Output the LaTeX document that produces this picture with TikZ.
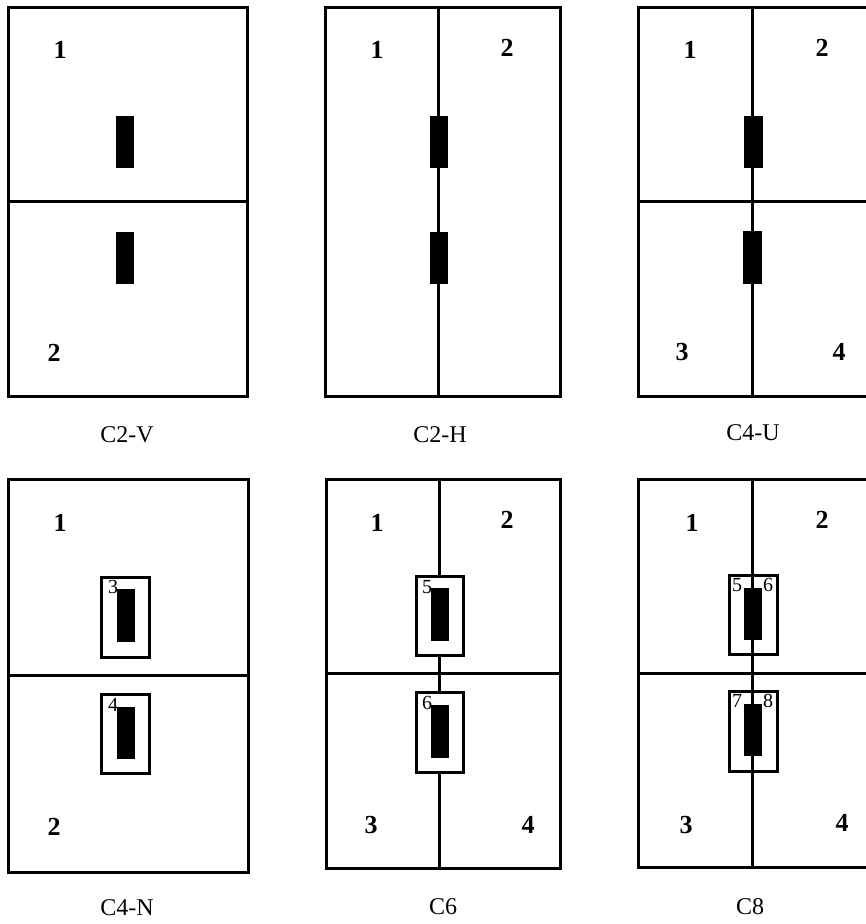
\documentclass[tikz,border=0pt]{standalone}
\usepackage{fontspec}
\setmainfont{Liberation Serif}
\begin{document}
\begin{tikzpicture}[x=1pt,y=-1pt,
  frame/.style={line width=3pt},
  divider/.style={line width=3pt},
  holder/.style={line width=3pt},
  bar/.style={fill=black,draw=none},
  region/.style={font=\fontsize{26}{26}\selectfont\bfseries,inner sep=0pt},
  small/.style={font=\fontsize{20}{20}\selectfont,inner sep=0pt},
  caption/.style={font=\fontsize{24}{24}\selectfont,inner sep=0pt}]
\useasboundingbox (0,0) rectangle (866,924);
% ---------- C2-V ----------
\draw[divider] (8,201) -- (247,201);
\draw[frame] (8,7) rectangle (247,396);
\fill[bar] (116,116) rectangle (134,168);
\fill[bar] (116,232) rectangle (134,284);
\node[region] (a1) at (60,50) {1};
\node[region] (a2) at (54,353) {2};
\node[caption] (ca) at (127,435) {C2-V};
% ---------- C2-H ----------
\draw[divider] (438,7) -- (438,396);
\draw[frame] (325,7) rectangle (560,396);
\fill[bar] (430,116) rectangle (448,168);
\fill[bar] (430,232) rectangle (448,284);
\node[region] (b1) at (377,50) {1};
\node[region] (b2) at (507,48) {2};
\node[caption] (cb) at (440,435) {C2-H};
% ---------- C4-U ----------
\draw[divider] (638,201) -- (866,201);
\draw[divider] (752,7) -- (752,396);
\draw[frame] (866,7) -- (638,7) -- (638,396) -- (866,396);
\fill[bar] (744,116) rectangle (763,168);
\fill[bar] (743,231) rectangle (762,284);
\node[region] (u1) at (690,50) {1};
\node[region] (u2) at (822,48) {2};
\node[region] (u3) at (682,352) {3};
\node[region] (u4) at (839,352) {4};
\node[caption] (cu) at (753,433) {C4-U};
% ---------- C4-N ----------
\draw[divider] (8,675) -- (248,675);
\draw[frame] (8,479) rectangle (248,872);
\draw[holder,fill=white] (101,577) rectangle (149,657);
\fill[bar] (117,589) rectangle (135,642);
\draw[holder,fill=white] (101,694) rectangle (149,773);
\fill[bar] (117,707) rectangle (135,759);
\node[small] (n3) at (113,587) {3};
\node[small] (n4) at (113,705) {4};
\node[region] (n1) at (60,523) {1};
\node[region] (n2) at (54,827) {2};
\node[caption] (cn) at (127,908) {C4-N};
% ---------- C6 ----------
\draw[divider] (326,673) -- (560,673);
\draw[divider] (439,479) -- (439,868);
\draw[frame] (326,479) rectangle (560,868);
\draw[holder,fill=white] (416,576) rectangle (463,655);
\fill[bar] (431,588) rectangle (449,641);
\draw[holder,fill=white] (416,692) rectangle (463,772);
\fill[bar] (431,705) rectangle (449,758);
\node[small] (s5) at (427,587) {5};
\node[small] (s6) at (427,703) {6};
\node[region] (s1) at (377,523) {1};
\node[region] (s2) at (507,520) {2};
\node[region] (s3) at (371,825) {3};
\node[region] (s4) at (528,825) {4};
\node[caption] (cs) at (443,907) {C6};
% ---------- C8 ----------
\draw[divider] (638,673) -- (866,673);
\draw[holder,fill=white] (729,575) rectangle (777,654);
\draw[holder,fill=white] (729,691) rectangle (777,771);
\draw[divider] (752,479) -- (752,867);
\draw[frame] (866,479) -- (638,479) -- (638,867) -- (866,867);
\fill[bar] (744,588) rectangle (762,640);
\fill[bar] (744,704) rectangle (762,756);
\node[small] (e5) at (737,585) {5};
\node[small] (e6) at (768,585) {6};
\node[small] (e7) at (737,701) {7};
\node[small] (e8) at (768,701) {8};
\node[region] (e1) at (692,523) {1};
\node[region] (e2) at (822,520) {2};
\node[region] (e3) at (686,825) {3};
\node[region] (e4) at (842,823) {4};
\node[caption] (ce) at (750,907) {C8};
\end{tikzpicture}
\end{document}
